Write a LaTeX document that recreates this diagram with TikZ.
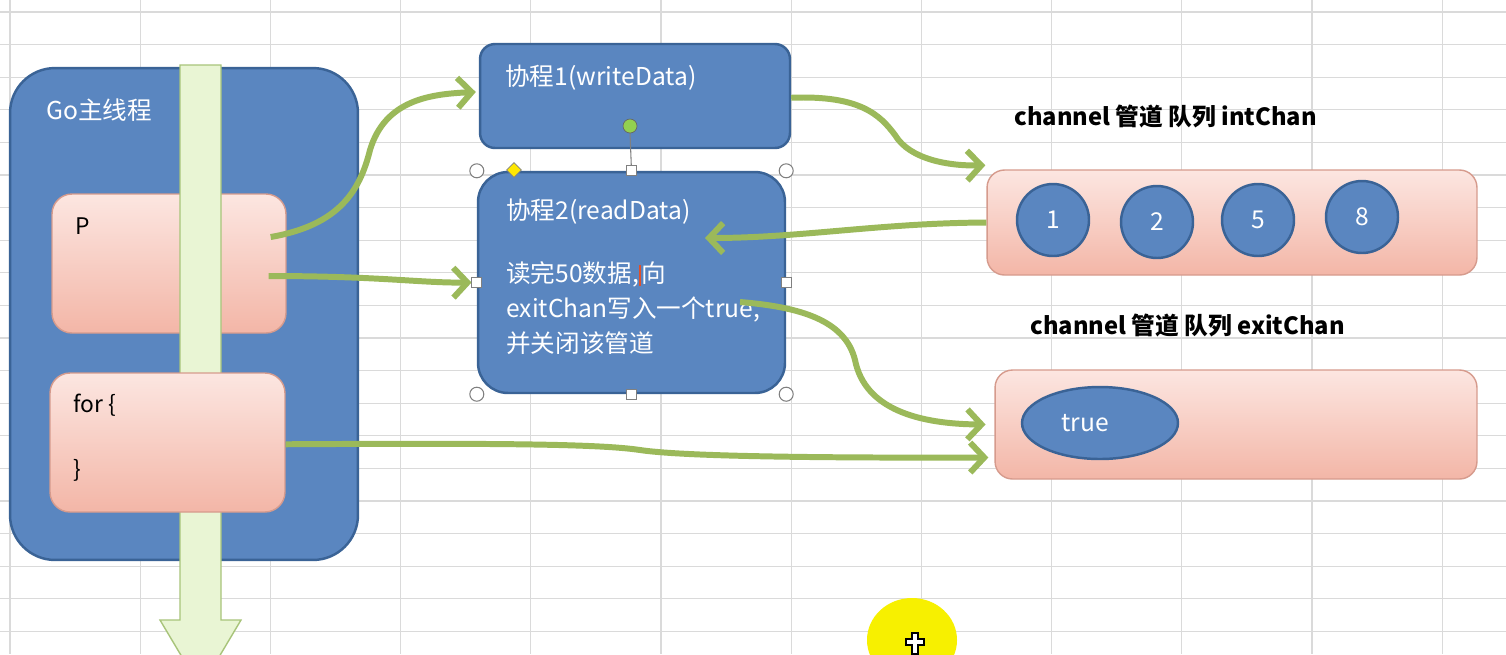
\documentclass[tikz,border=0pt]{standalone}
\usepackage{fontspec}
\setmainfont{Noto Sans CJK SC}
\usetikzlibrary{positioning}
\usetikzlibrary{arrows.meta}
\usetikzlibrary{shapes.geometric}
\definecolor{gridgray}{HTML}{DADADA}
\definecolor{bluefill}{HTML}{5A86C0}
\definecolor{blueline}{HTML}{3A6396}
\definecolor{pinktop}{HTML}{FCE6E1}
\definecolor{pinkbot}{HTML}{F3B6A7}
\definecolor{pinkline}{HTML}{D69B8D}
\definecolor{olive}{HTML}{9BB95A}
\definecolor{shaftfill}{HTML}{E9F5D4}
\definecolor{shaftline}{HTML}{A8C47A}
\definecolor{dotgreen}{HTML}{92D050}
\definecolor{cursorred}{HTML}{E0502A}
\definecolor{hiyellow}{HTML}{F7F000}

\begin{document}
\begin{tikzpicture}[x=0.02cm,y=-0.02cm,
 gridline/.style={gridgray,line width=0.6pt},
 bluebox/.style={draw=blueline,line width=1.4pt,fill=bluefill,inner sep=0pt},
 pinkbox/.style={draw=pinkline,line width=0.8pt,top color=pinktop,bottom color=pinkbot,inner sep=0pt},
 wtext/.style={text=white,font=\fontsize{14}{20}\selectfont,inner sep=0pt},
 btext/.style={text=black,font=\fontsize{13}{19}\selectfont,inner sep=0pt},
 chlabel/.style={text=black,font=\fontsize{13.5}{16}\selectfont\bfseries,inner sep=0pt},
 flow/.style={olive,line width=3.4pt,-{Straight Barb[length=8pt,width=17pt]}},
 handle/.style={draw=gray,fill=white,line width=0.6pt,inner sep=0pt}]
\useasboundingbox (0,0) rectangle (1506,654);
\fill[white] (0,0) rectangle (1506,654);
% sheet grid
\foreach \gx in {10,140.2,...,1500}
  \draw[gridline] (\gx,0) -- (\gx,654);
\foreach \gy in {12,44.6,...,654}
  \draw[gridline] (0,\gy) -- (1506,\gy);

% main thread
\node[bluebox,rounded corners=0.9cm,minimum width=6.96cm,minimum height=9.84cm] (main) at (184,314) {};
\node[wtext,anchor=west] (maintxt) at (46,110) {Go主线程};
\node[pinkbox,rounded corners=0.4cm,minimum width=4.68cm,minimum height=2.78cm] (p) at (169,263.5) {};
\node[btext,anchor=west] (ptxt) at (75,226) {P};
\draw[shaftline,line width=0.8pt,fill=shaftfill] (180,65) -- (221,65) -- (221,620) -- (241,620) -- (200.5,688) -- (160,620) -- (180,620) -- cycle;
\node[pinkbox,rounded corners=0.4cm,minimum width=4.7cm,minimum height=2.78cm] (for) at (167.5,442.5) {};
\node[btext,anchor=west] (fortxt) at (73,405) {for \{};
\node[btext,anchor=west] (forend) at (73,470) {\}};

% goroutines
\node[bluebox,rounded corners=0.3cm,minimum width=6.2cm,minimum height=2.08cm] (write) at (635,96) {};
\node[wtext,anchor=west] (writetxt) at (505,78) {协程1(writeData)};
\node[bluebox,rounded corners=0.6cm,minimum width=6.14cm,minimum height=4.42cm] (read) at (631.5,282.5) {};
\node[wtext,anchor=north west,align=left] (readtxt) at (506,198) {协程2(readData)\\[16pt]读完50数据,{\color{cursorred}\rule[-2pt]{1.3pt}{12pt}}向\\exitChan写入一个true,\\并关闭该管道};

% channels
\node[chlabel,anchor=west] (intlbl) at (1014,116) {channel 管道 队列 intChan};
\node[pinkbox,rounded corners=0.35cm,minimum width=9.8cm,minimum height=2.1cm] (intc) at (1232,222.5) {};
\foreach \cx/\cy/\v in {1053/220/1,1157/222/2,1258/220/5,1362/217/8}
  \node[bluebox,circle,minimum size=1.44cm,wtext,draw=blueline,fill=bluefill] (c\v) at (\cx,\cy) {\v};
\node[chlabel,anchor=west] (exitlbl) at (1030,325) {channel 管道 队列 exitChan};
\node[pinkbox,rounded corners=0.35cm,minimum width=9.64cm,minimum height=2.18cm] (exitc) at (1236,424.5) {};
\node[bluebox,ellipse,minimum width=3.12cm,minimum height=1.44cm] (tv) at (1100,423) {};
\node[wtext] (tvtxt) at (1085,423) {true};

% connectors
\coordinate (rin) at (705,238);
\coordinate (rout) at (740,302);
\draw[flow] ([shift={(-16,-26.5)}]p.east) .. controls (340,225) and (360,190) .. (370,150) .. controls (385,100) and (430,94) .. ([shift={(-3,-4)}]write.west);
\draw[flow] ([shift={(-18,12.5)}]p.east) .. controls (380,276) and (420,283) .. ([xshift=-3]read.west);
\draw[flow] ([yshift=-1]write.east) .. controls (860,95) and (880,115) .. (895,135) .. controls (910,160) and (950,166) .. ([shift={(-1,-4)}]intc.north west);
\draw[flow] (intc.west) .. controls (880,223) and (800,238) .. (rin);
\draw[flow] (rout) .. controls (800,307) and (845,320) .. (855,360) .. controls (865,410) and (920,424) .. ([xshift=-5]exitc.west);
\draw[flow] ([yshift=-1]for.east) .. controls (500,443) and (600,444) .. (640,450) .. controls (680,456) and (800,458) .. ([shift={(-6,33)}]exitc.west);

% selection handles
\draw[gray,line width=0.6pt] (630,133) -- (read.north);
\node[circle,draw=gray!80!black,fill=dotgreen,minimum size=0.28cm,inner sep=0pt] (rot) at (630,126) {};
\foreach \a in {north west,north east,south west,south east}
  \node[handle,circle,minimum size=0.28cm] at (read.\a) {};
\foreach \a in {north,south,west,east}
  \node[handle,rectangle,minimum size=0.2cm] at (read.\a) {};
\node[draw=gray,fill=yellow!90!orange,diamond,minimum size=0.3cm,inner sep=0pt] (adj) at (514,170) {};

% pointer
\fill[hiyellow] (912,640) ellipse [x radius=45,y radius=42];
\draw[black,fill=white,line width=0.6pt] (912,633) -- (918,633) -- (918,639) -- (924,639) -- (924,645) -- (918,645) -- (918,654) -- (912,654) -- (912,645) -- (906,645) -- (906,639) -- (912,639) -- cycle;
\end{tikzpicture}
\end{document}
